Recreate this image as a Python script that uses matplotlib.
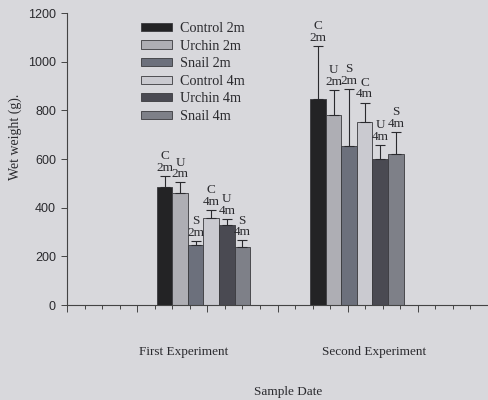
import matplotlib.pyplot as plt
import numpy as np

groups = ['First Experiment', 'Second Experiment']
series = ['Control 2m', 'Urchin 2m', 'Snail 2m', 'Control 4m', 'Urchin 4m', 'Snail 4m']
short = ['C\n2m', 'U\n2m', 'S\n2m', 'C\n4m', 'U\n4m', 'S\n4m']
colors = ['#232325', '#aeaeb4', '#6c707c', '#cacad0', '#4a4a52', '#7e8088']

first = [486, 459, 245, 359, 327, 237]
second = [848, 781, 655, 753, 600, 622]
first_err = [45, 45, 19, 31, 28, 29]
second_err = [218, 103, 233, 79, 57, 89]

bg = '#d8d8dc'
plt.rcParams['font.family'] = ['Liberation Serif', 'DejaVu Serif']

fig = plt.figure(figsize=(4.88, 4.0), dpi=100, facecolor=bg)
ax = fig.add_axes([67/488, 95/400, 1 - 67/488, 292/400])
ax.set_facecolor(bg)

w = 0.885
centers = [7.78, 16.53]
vals = np.array([first, second])
errs = np.array([first_err, second_err])
for i in range(len(series)):
    x = np.array(centers) + (i - 2.5) * w
    ax.bar(x, vals[:, i], w, color=colors[i], edgecolor='#3a3a3e', linewidth=0.6,
           label=series[i], zorder=2)
    ax.errorbar(x, vals[:, i], yerr=[np.zeros(2), errs[:, i]], fmt='none',
                ecolor='#2a2a2e', elinewidth=0.8, capsize=3.5, capthick=0.8, zorder=3)
    for xx, top in zip(x, vals[:, i] + errs[:, i]):
        ax.annotate(short[i], (xx, top), xytext=(0, 1.5), textcoords='offset points',
                    ha='center', va='bottom', fontsize=9.5, linespacing=0.95,
                    color='#2a2a2e')

ax.set_xlim(0, 24)
ax.set_ylim(0, 1200)
ax.set_yticks(range(0, 1201, 200))
ax.set_yticklabels([str(v) for v in range(0, 1201, 200)], family='Liberation Sans',
                   fontsize=9, color='#2a2a2e')
ax.set_xticks(range(0, 25, 4))
ax.set_xticks(range(0, 25), minor=True)
ax.set_xticklabels([])
ax.tick_params(axis='x', which='major', length=5, width=0.7, color='#444')
ax.tick_params(axis='x', which='minor', length=3, width=0.7, color='#444')
ax.tick_params(axis='y', length=4, width=0.7, color='#444', pad=4)
for s in ['top', 'right']:
    ax.spines[s].set_visible(False)
for s in ['left', 'bottom']:
    ax.spines[s].set_color('#444')
    ax.spines[s].set_linewidth(0.8)

ax.set_ylabel('Wet weight (g).', fontsize=10, color='#2a2a2e')
ax.yaxis.set_label_coords(-45/421, 0.575)
fig.text(184/488, 1 - 352/400, groups[0], ha='center', va='center', fontsize=9.5, color='#2a2a2e')
fig.text(374/488, 1 - 352/400, groups[1], ha='center', va='center', fontsize=9.5, color='#2a2a2e')
fig.text(288/488, 1 - 392/400, 'Sample Date', ha='center', va='center', fontsize=9.5, color='#2a2a2e')

ax.legend(loc='upper left', bbox_to_anchor=(141/488, 1 - 22/400), bbox_transform=fig.transFigure,
          frameon=False, fontsize=10.2, handlelength=2.2, handleheight=0.5, handletextpad=0.55,
          labelspacing=0.32, borderpad=0, borderaxespad=0, labelcolor='#2a2a2e')

fig.savefig('out.png', dpi=100, facecolor=bg)
